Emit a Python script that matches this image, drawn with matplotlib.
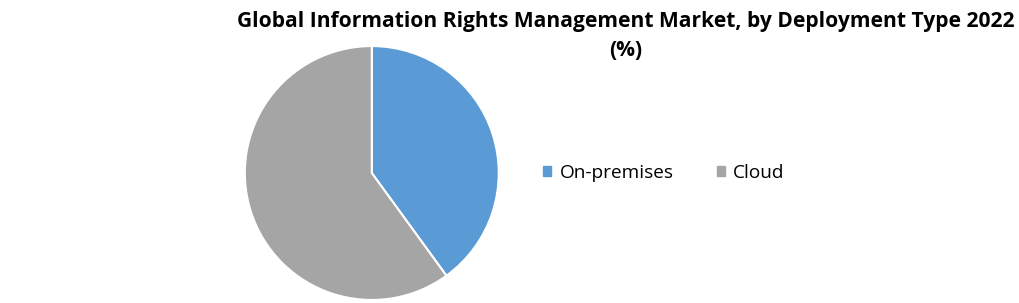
import matplotlib.pyplot as plt
from matplotlib.patches import Patch

labels = ["On-premises", "Cloud"]
shares = [40, 60]
colors = ["#5B9BD5", "#A5A5A5"]

fig = plt.figure(figsize=(10.2, 3.03), dpi=100)
ax = fig.add_axes([0.240, 0.01, 0.249, 0.838])
ax.pie(shares, colors=colors, startangle=90, counterclock=False,
       wedgeprops=dict(edgecolor="white", linewidth=1.5))
ax.set_xlim(-1.0, 1.0)
ax.set_ylim(-1.0, 1.0)
ax.set_aspect("equal")

fig.text(0.613, 0.882, "Global Information Rights Management Market, by Deployment Type 2022\n(%)",
         ha="center", va="center", fontsize=15.1, fontweight="bold",
         family="Open Sans", linespacing=1.5)

handles = [Patch(facecolor=c, edgecolor=c) for c in colors]
fig.legend(handles, labels, loc="center left", bbox_to_anchor=(0.516, 0.43),
           ncol=2, frameon=False, handlelength=0.42, handleheight=0.42,
           handletextpad=0.45, columnspacing=2.25, prop={"family": "Open Sans", "size": 13.7})

fig.savefig("out.png", dpi=100)
